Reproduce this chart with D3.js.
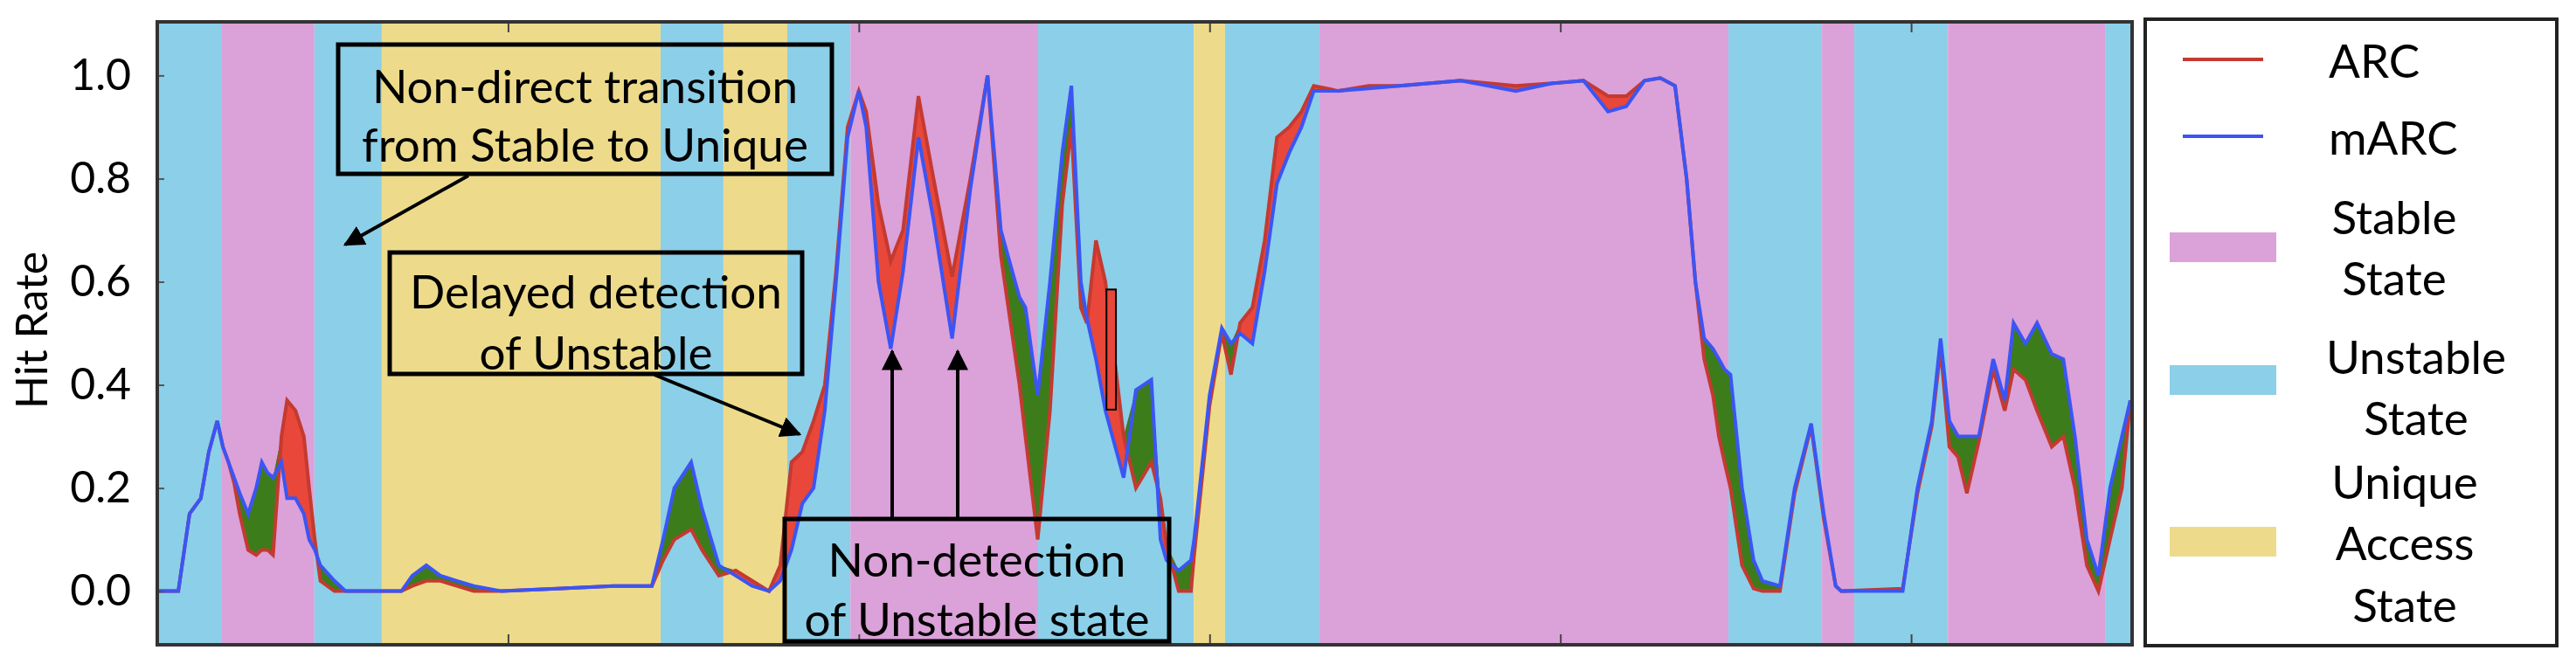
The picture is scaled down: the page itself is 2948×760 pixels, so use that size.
<!DOCTYPE html>
<html>
<head>
<meta charset="utf-8">
<script src="https://cdn.jsdelivr.net/npm/d3@7"></script>
<style>
  body { margin: 0; background: #fff; }
  text { font-family: Lato, 'Noto Sans', sans-serif; fill: #000; }
</style>
</head>
<body>
<div class="canvas"></div>
<script>
// data
const xs = [0, 6, 9.2, 12.4, 14.7, 17.1, 18.7, 20.3, 21.9, 23.5, 25.9, 28.2, 29.8, 31.4, 33.0, 35.4, 37.0, 39.4, 41.8, 43.3, 44.9, 46.5, 50.5, 53.7, 69.6, 72.7, 76.7, 80.7, 85.4, 90.2, 98.2, 114, 130, 141, 144.2, 147.4, 152.2, 155.3, 160.1, 164.9, 169.6, 174.4, 177.6, 180.8, 183.9, 187.1, 190.3, 193.5, 196.8, 200.0, 202.1, 205.6, 209.1, 212.6, 217.0, 221.3, 226.6, 231.8, 236.7, 240.5, 245.8, 247.5, 251.0, 254.5, 258.0, 260.6, 263.3, 265.0, 267.6, 270.3, 275.5, 279.0, 283.4, 286.0, 287.7, 291.2, 294.7, 295.6, 300.0, 303.5, 306.1, 308.7, 312.2, 315.7, 319.2, 322.7, 326.2, 329.7, 336.7, 345.4, 354.1, 371.6, 387.3, 397.8, 406.6, 413.6, 418.8, 424.0, 428.5, 432.7, 436.0, 438.5, 441.0, 443.5, 445.2, 446.8, 448.5, 451.8, 455.1, 457.6, 462.6, 466.8, 471.5, 475.1, 478.5, 480.1, 497.6, 501.8, 505.9, 508.4, 510.9, 513.4, 515.9, 519.3, 523.4, 526.7, 529.2, 532.6, 535.9, 540.1, 543.4, 546.7, 550.1, 553.4, 556.7, 560.1, 562.5];
const marc = [0, 0, .15, .18, .27, .33, .28, .25, .22, .19, .15, .2, .25, .23, .22, .25, .18, .18, .15, .10, .08, .05, .02, 0, 0, .03, .05, .03, .02, .01, 0, .005, .01, .01, .1, .2, .25, .16, .05, .03, .01, 0, .02, .08, .17, .2, .35, .6, .88, .97, .9, .6, .47, .62, .88, .72, .49, .78, 1.0, .7, .57, .55, .38, .6, .85, .98, .6, .53, .45, .35, .22, .39, .41, .1, .06, .04, .06, .1, .38, .51, .48, .5, .48, .62, .79, .85, .9, .97, .97, .975, .98, .99, .97, .985, .99, .93, .94, .99, .995, .98, .8, .6, .49, .47, .45, .43, .42, .2, .06, .02, .01, .2, .325, .15, .01, 0, 0, .2, .33, .49, .33, .3, .3, .3, .45, .37, .52, .48, .52, .46, .45, .3, .1, .03, .2, .3, .37];
const arc = [0, 0, .15, .18, .27, .33, .28, .25, .21, .15, .08, .07, .08, .08, .07, .30, .37, .35, .30, .20, .10, .02, 0, 0, 0, .01, .02, .02, .01, 0, 0, .005, .01, .01, .06, .1, .12, .08, .03, .04, .02, 0, .05, .25, .27, .33, .4, .62, .9, .97, .93, .75, .64, .7, .96, .8, .61, .8, 1.0, .65, .4, .3, .1, .35, .75, .9, .55, .52, .68, .6, .3, .2, .25, .18, .09, 0, 0, .07, .36, .5, .42, .52, .55, .68, .88, .9, .93, .98, .97, .98, .98, .99, .98, .985, .99, .96, .96, .99, .995, .98, .8, .6, .45, .38, .3, .25, .2, .05, .005, 0, 0, .19, .32, .14, .01, 0, .005, .19, .32, .47, .28, .26, .19, .29, .43, .35, .43, .41, .35, .28, .3, .2, .05, 0, .1, .2, .37];

// state bands: [start, end, state]
const bands = [
  [0, 18.2, 'unstable'], [18.2, 44.8, 'stable'], [44.8, 64, 'unstable'],
  [64, 143.5, 'unique'], [143.5, 161.4, 'unstable'], [161.4, 179.6, 'unique'],
  [179.6, 197.6, 'unstable'], [197.6, 251.1, 'stable'], [251.1, 295.5, 'unstable'],
  [295.5, 304.4, 'unique'], [304.4, 331.3, 'unstable'], [331.3, 447.9, 'stable'],
  [447.9, 474.6, 'unstable'], [474.6, 483.8, 'stable'], [483.8, 510.5, 'unstable'],
  [510.5, 555.3, 'stable'], [555.3, 563, 'unstable']
];
const yTicks = [0, 0.2, 0.4, 0.6, 0.8, 1.0];
const xTicks = [100, 200, 300, 400, 500];

const colors = { stable: '#dba1d9', unstable: '#8ccfe8', unique: '#eddb8b' };

const width = 2948, height = 760;
const margin = { top: 25, left: 180, right: 508, bottom: 22 };
const graphWidth = width - margin.left - margin.right;
const graphHeight = height - margin.top - margin.bottom;

const svg = d3.select('.canvas').append('svg')
  .attr('width', width).attr('height', height);

const graph = svg.append('g')
  .attr('transform', `translate(${margin.left}, ${margin.top})`);

const x = d3.scaleLinear().domain([0, 563]).range([0, graphWidth]);
const y = d3.scaleLinear().domain([-0.104, 1.104]).range([graphHeight, 0]);

// background state bands
graph.selectAll('rect.band').data(bands).enter().append('rect')
  .attr('class', 'band')
  .attr('x', d => x(d[0]))
  .attr('width', d => x(d[1]) - x(d[0]))
  .attr('y', 0).attr('height', graphHeight)
  .attr('fill', d => colors[d[2]]);

const pts = xs.map((v, i) => ({ x: v, a: arc[i], m: marc[i] }));

// red where ARC above mARC, green where mARC above ARC
const redArea = d3.area().x(d => x(d.x)).y0(d => y(d.m)).y1(d => y(Math.max(d.a, d.m)));
const greenArea = d3.area().x(d => x(d.x)).y0(d => y(d.a)).y1(d => y(Math.max(d.a, d.m)));
graph.append('path').datum(pts).attr('d', redArea).attr('fill', '#e8473a');
graph.append('path').datum(pts).attr('d', greenArea).attr('fill', '#3d7c1b');

const arcLine = d3.line().x(d => x(d.x)).y(d => y(d.a));
const marcLine = d3.line().x(d => x(d.x)).y(d => y(d.m));
graph.append('path').datum(pts).attr('d', arcLine)
  .attr('fill', 'none').attr('stroke', '#c43a30').attr('stroke-width', 4);
graph.append('path').datum(pts).attr('d', marcLine)
  .attr('fill', 'none').attr('stroke', '#3b55f5').attr('stroke-width', 4);

// axes
const yAxis = d3.axisLeft(y).tickValues(yTicks).tickFormat(d3.format('.1f')).tickSize(-8).tickPadding(30);
const yg = graph.append('g').call(yAxis);
yg.select('.domain').remove();
yg.selectAll('line').attr('stroke', '#555').attr('stroke-width', 2);
yg.selectAll('text').attr('font-size', 50).style('font-family', 'Lato, sans-serif');

const xTop = graph.append('g').call(d3.axisTop(x).tickValues(xTicks).tickSize(-12).tickFormat(''));
const xBot = graph.append('g').attr('transform', `translate(0, ${graphHeight})`)
  .call(d3.axisBottom(x).tickValues(xTicks).tickSize(-12).tickFormat(''));
[xTop, xBot].forEach(g => {
  g.select('.domain').remove();
  g.selectAll('line').attr('stroke', '#444').attr('stroke-width', 2);
});

graph.append('rect').attr('width', graphWidth).attr('height', graphHeight)
  .attr('fill', 'none').attr('stroke', '#333').attr('stroke-width', 4);

svg.append('text').attr('transform', 'translate(54, 378) rotate(-90)')
  .attr('text-anchor', 'middle').attr('font-size', 50).text('Hit Rate');

// annotations
const defs = svg.append('defs');
defs.append('marker').attr('id', 'head').attr('viewBox', '0 0 10 10')
  .attr('refX', 9).attr('refY', 5).attr('markerWidth', 6).attr('markerHeight', 6)
  .attr('orient', 'auto-start-reverse').attr('markerUnits', 'strokeWidth')
  .append('path').attr('d', 'M0,0 L10,5 L0,10 Z').attr('fill', '#000');

const boxes = [
  { x: 387, y: 51, w: 565, h: 148, lines: ['Non-direct transition', 'from Stable to Unique'], ty: [97, 164] },
  { x: 446, y: 289, w: 472, h: 139, lines: ['Delayed detection', 'of Unstable'], ty: [332, 402] },
  { x: 898, y: 594, w: 440, h: 140, lines: ['Non-detection', 'of Unstable state'], ty: [639, 707] }
];
boxes.forEach(b => {
  svg.append('rect').attr('x', b.x).attr('y', b.y).attr('width', b.w).attr('height', b.h)
    .attr('fill', 'none').attr('stroke', '#000').attr('stroke-width', 5);
  b.lines.forEach((t, i) => svg.append('text').attr('x', b.x + b.w / 2).attr('y', b.ty[i])
    .attr('text-anchor', 'middle').attr('dominant-baseline', 'central')
    .attr('font-size', 53).text(t));
});

const arrows = [[536, 201, 395, 280], [749, 429, 915, 497], [1021, 594, 1021, 402], [1096, 594, 1096, 402]];
arrows.forEach(a => svg.append('line').attr('x1', a[0]).attr('y1', a[1]).attr('x2', a[2]).attr('y2', a[3])
  .attr('stroke', '#000').attr('stroke-width', 4).attr('marker-end', 'url(#head)'));

graph.append('rect').attr('x', x(270.6)).attr('width', x(273.3) - x(270.6))
  .attr('y', y(0.585)).attr('height', y(0.352) - y(0.585))
  .attr('fill', '#e8473a').attr('stroke', '#000').attr('stroke-width', 2);

// legend
const legend = svg.append('g');
legend.append('rect').attr('x', 2455).attr('y', 22).attr('width', 471).attr('height', 717)
  .attr('fill', '#fff').attr('stroke', '#222').attr('stroke-width', 4);
const legLines = [['ARC', '#c43a30', 68], ['mARC', '#3b55f5', 156]];
legLines.forEach(l => {
  legend.append('line').attr('x1', 2498).attr('x2', 2590).attr('y1', l[2]).attr('y2', l[2])
    .attr('stroke', l[1]).attr('stroke-width', 4);
  legend.append('text').attr('x', 2665).attr('y', l[2]).attr('dominant-baseline', 'central')
    .attr('font-size', 53).text(l[0]);
});
const legRects = [
  ['stable', 266, ['Stable', 'State'], [247, 317], 2740],
  ['unstable', 418, ['Unstable', 'State'], [407, 477], 2765],
  ['unique', 603, ['Unique', 'Access', 'State'], [550, 620, 691], 2752]
];
legRects.forEach(r => {
  legend.append('rect').attr('x', 2483).attr('y', r[1]).attr('width', 122).attr('height', 34)
    .attr('fill', colors[r[0]]);
  r[2].forEach((t, i) => legend.append('text').attr('x', r[4]).attr('y', r[3][i])
    .attr('text-anchor', 'middle').attr('dominant-baseline', 'central')
    .attr('font-size', 53).text(t));
});
</script>
</body>
</html>
